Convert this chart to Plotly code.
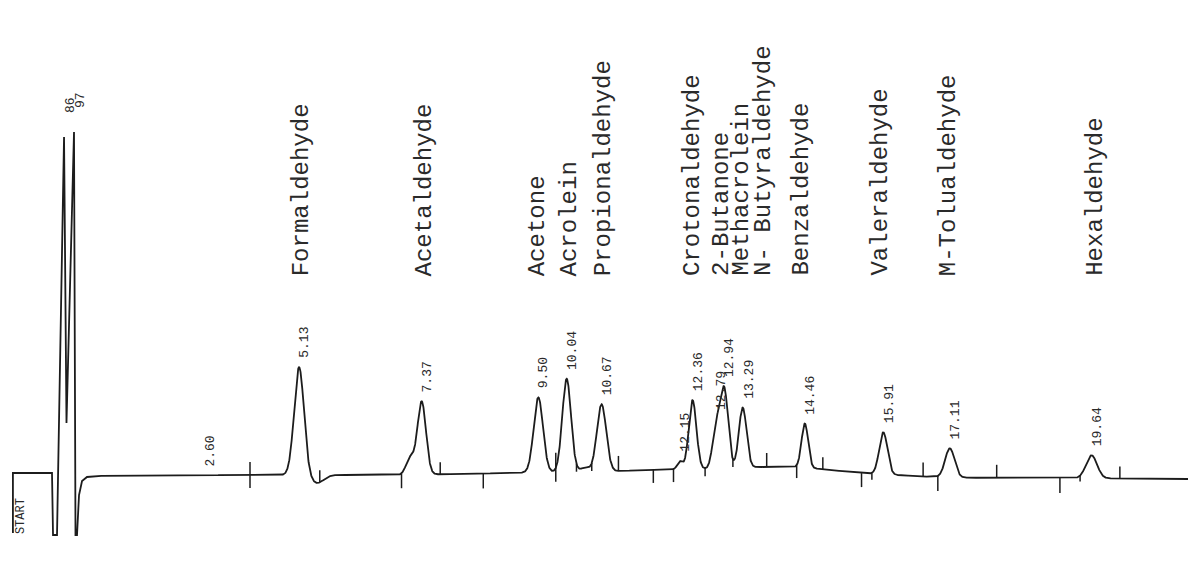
import numpy as np
import plotly.graph_objects as go

# ---------------- data ----------------
# labelled peaks: printed retention-time text, apex position on the chart (min),
# height above local baseline and peak width (sigma, min)
rt_text = ["2.60", "5.13", "7.37", "9.50", "10.04", "10.67", "12.15", "12.36",
           "12.79", "12.94", "13.29", "14.46", "15.91", "17.11", "19.64"]
apex_min = [3.39, 5.12, 7.37, 9.51, 10.03, 10.67, 12.11, 12.34,
            12.77, 12.92, 13.26, 14.40, 15.84, 17.06, 19.66]
peak_height = [0, 108, 73, 75, 93, 67, 8, 69, 40, 79, 60, 44, 42, 29, 23]
peak_sigma = [0.10, 0.09, 0.078, 0.085, 0.08, 0.085, 0.05, 0.07,
              0.065, 0.072, 0.07, 0.06, 0.075, 0.085, 0.10]

# unlabelled features: post-peak dip, shoulder, small bump
minor_min = [5.45, 7.16, 10.37]
minor_height = [-8, 17, 4]
minor_sigma = [0.12, 0.075, 0.08]

# baseline drift
baseline_min = [1.376, 4.22, 6.97, 8.44, 9.82, 11.01, 11.56, 12.48, 13.58,
                14.31, 14.86, 15.41, 16.57, 17.38, 19.08, 21.45]
baseline_level = [-1, 0, 0, 1.5, 3, 4, 5, 6, 8, 8, 5, 2, -1.5, -2.7, -3, -4]

# injection / solvent front section (start marker, dips and off-scale spikes)
front_min = [-0.13, -0.13, 0.587, 0.606, 0.679, 0.808, 0.853, 0.991,
             1.018, 1.046, 1.083, 1.138, 1.229, 1.376]
front_level = [-58, 2, 2, -60, -60, 338, 52, 343, -60, -60, -20, -6, -2, -1]
front_text = ["86", "97"]
front_apex_min = [0.808, 0.991]
front_apex_level = [338, 343]

# integrator event ticks: time, extent below / above the trace
tick_min = [4.22, 5.50, 7.00, 7.71, 8.50, 9.83, 10.21, 10.49, 10.98, 11.62,
            11.99, 12.57, 13.08, 13.70, 14.25, 14.73, 15.44, 15.63, 16.57,
            16.84, 17.92, 19.08, 19.45, 20.18]
tick_lo = [-13, 0, -15, 0, -15, -14, -8, -8, 0, -13, -13, -8, -8, 0, -13, 0,
           -14, -7, 0, -15, 0, -15, -6, 0]
tick_hi = [13, 12, 0, 12, 0, 15, 0, 0, 15, 0, 0, 0, 0, 14, 0, 12, 0, 0, 14,
           0, 13, 0, 0, 12]

# compound names and where they are printed (min)
compound = ["Formaldehyde", "Acetaldehyde", "Acetone", "Acrolein",
            "Propionaldehyde", "Crotonaldehyde", "2-Butanone", "Methacrolein",
            "N- Butyraldehyde", "Benzaldehyde", "Valeraldehyde",
            "M-Tolualdehyde", "Hexaldehyde"]
compound_min = [5.17, 7.43, 9.50, 10.09, 10.70, 12.33, 12.86, 13.23, 13.63,
                14.33, 15.78, 17.03, 19.72]
name_level = 197

# ---------------- build trace ----------------
t = np.arange(1.376, 21.45, 0.004)
sig = np.interp(t, baseline_min, baseline_level)
for c, h, s in zip(apex_min + minor_min, peak_height + minor_height,
                   peak_sigma + minor_sigma):
    sig = sig + h * np.exp(-0.5 * ((t - c) / s) ** 2)

x_all = list(front_min) + list(t)
y_all = list(front_level) + list(sig)

ink = "#1c1c1c"
fig = go.Figure()
fig.add_trace(go.Scatter(x=x_all, y=y_all, mode="lines",
                         line=dict(color=ink, width=1.8), hoverinfo="skip",
                         showlegend=False))

tx, ty = [], []
for tm, lo, hi in zip(tick_min, tick_lo, tick_hi):
    yc = float(np.interp(tm, t, sig))
    tx += [tm, tm, None]
    ty += [yc + lo, yc + hi, None]
fig.add_trace(go.Scatter(x=tx, y=ty, mode="lines",
                         line=dict(color=ink, width=1.5), hoverinfo="skip",
                         showlegend=False))

ann = []
mono = "Liberation Mono"
for txt, c in zip(rt_text, apex_min):
    yc = float(np.interp(c, t, sig))
    ann.append(dict(x=c, y=yc, text=txt, textangle=-90, showarrow=False,
                    xanchor="center", yanchor="bottom", xshift=6, yshift=7,
                    font=dict(family=mono, size=13, color="#2a2a2a")))
for txt, c, lv in zip(front_text, front_apex_min, front_apex_level):
    ann.append(dict(x=c, y=lv, text=txt, textangle=-90, showarrow=False,
                    xanchor="center", yanchor="bottom", xshift=6, yshift=22,
                    font=dict(family=mono, size=13, color="#2a2a2a")))
for txt, c in zip(compound, compound_min):
    ann.append(dict(x=c, y=name_level, text=txt, textangle=-90,
                    showarrow=False, xanchor="center", yanchor="bottom",
                    font=dict(family=mono, size=24, color="#2a2a2a")))
ann.append(dict(x=0.02, y=-61, text="START", textangle=-90, showarrow=False,
                xanchor="center", yanchor="bottom",
                font=dict(family=mono, size=12, color="#2a2a2a")))

fig.update_layout(
    width=1188, height=563,
    margin=dict(l=0, r=0, t=0, b=0),
    paper_bgcolor="white", plot_bgcolor="white",
    annotations=ann,
    xaxis=dict(range=[-0.367, 21.43], visible=False, fixedrange=True),
    yaxis=dict(range=[-88, 475], visible=False, fixedrange=True),
)
fig.write_html("out.html")
